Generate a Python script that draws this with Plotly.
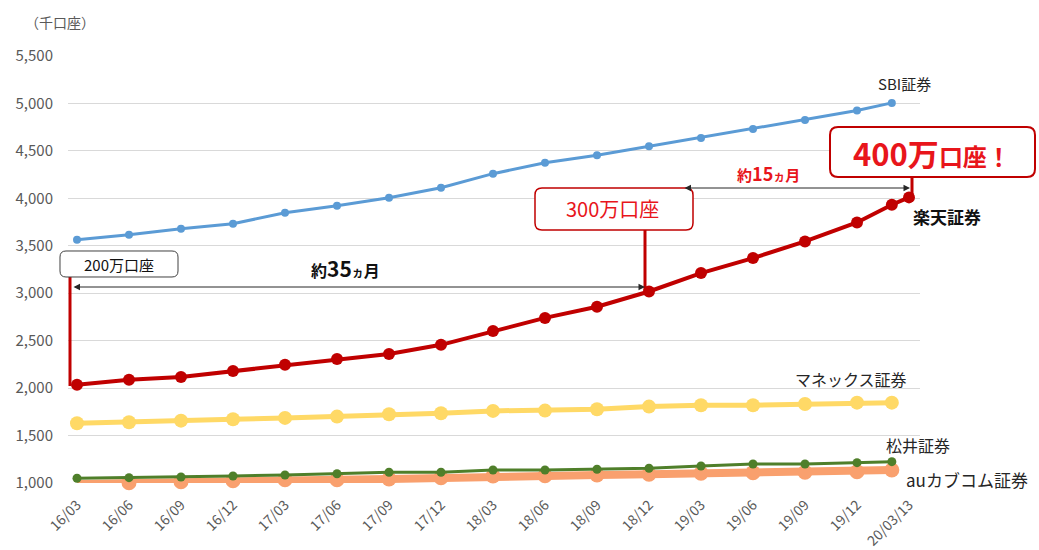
import plotly.graph_objects as go

# ---------------- data ----------------
tick_labels = ["16/03", "16/06", "16/09", "16/12", "17/03", "17/06", "17/09", "17/12",
               "18/03", "18/06", "18/09", "18/12", "19/03", "19/06", "19/09", "19/12", "20/03/13"]
tick_pos = list(range(17))

x_others = [0, 1, 2, 3, 4, 5, 6, 7, 8, 9, 10, 11, 12, 13, 14, 15, 15.67]
x_rakuten = [0, 1, 2, 3, 4, 5, 6, 7, 8, 9, 10, 11, 12, 13, 14, 15, 15.67, 16]

sbi = [3563, 3616, 3680, 3732, 3849, 3922, 4007, 4112, 4260, 4374, 4453, 4548,
       4636, 4731, 4826, 4925, 5006]
rakuten = [2036, 2087, 2118, 2180, 2245, 2308, 2360, 2456, 2603, 2740, 2857, 3018,
           3212, 3370, 3546, 3746, 3933, 4010]
monex = [1630, 1640, 1657, 1672, 1686, 1700, 1725, 1735, 1760, 1763, 1778, 1805,
         1820, 1820, 1833, 1847, 1847]
matsui = [1050, 1056, 1063, 1074, 1084, 1098, 1113, 1113, 1137, 1137, 1145, 1155,
          1179, 1200, 1200, 1214, 1225]
au = [990, 1003, 1014, 1024, 1035, 1035, 1042, 1056, 1074, 1077, 1084, 1092,
      1102, 1109, 1113, 1119, 1137]

# ---------------- layout helpers ----------------
W, H = 1039, 550
L, R, T, B = 68, 920, 56, 483
FONT = "Noto Sans CJK JP, Noto Sans, sans-serif"


def P(px, py):
    return (px - L) / (R - L), (B - py) / (B - T)


def rounded(x0, y0, x1, y1, r):
    def p(x, y):
        a, b = P(x, y)
        return f"{a:.5f},{b:.5f}"
    path = (f"M {p(x0 + r, y0)} L {p(x1 - r, y0)} Q {p(x1, y0)} {p(x1, y0 + r)} "
            f"L {p(x1, y1 - r)} Q {p(x1, y1)} {p(x1 - r, y1)} "
            f"L {p(x0 + r, y1)} Q {p(x0, y1)} {p(x0, y1 - r)} "
            f"L {p(x0, y0 + r)} Q {p(x0, y0)} {p(x0 + r, y0)} Z")
    return path


fig = go.Figure()

fig.add_trace(go.Scatter(x=x_others, y=au, mode="lines+markers", cliponaxis=False,
                         line=dict(color="#F9A06E", width=8),
                         marker=dict(size=15, color="#F9A06E")))
fig.add_trace(go.Scatter(x=x_others, y=matsui, mode="lines+markers", cliponaxis=False,
                         line=dict(color="#4F7F2A", width=3),
                         marker=dict(size=9, color="#4F7F2A")))
fig.add_trace(go.Scatter(x=x_others, y=monex, mode="lines+markers", cliponaxis=False,
                         line=dict(color="#FFD966", width=5),
                         marker=dict(size=14, color="#FFD966")))
fig.add_trace(go.Scatter(x=x_others, y=sbi, mode="lines+markers", cliponaxis=False,
                         line=dict(color="#5B9BD5", width=3),
                         marker=dict(size=8, color="#5B9BD5")))
fig.add_trace(go.Scatter(x=x_rakuten, y=rakuten, mode="lines+markers", cliponaxis=False,
                         line=dict(color="#C00000", width=4),
                         marker=dict(size=12, color="#C00000")))

shapes = []
# red connector lines
for (xa, ya, xb, yb) in [(70, 276, 70, 386), (645, 230, 645, 291), (912, 177, 912, 197)]:
    a0, b0 = P(xa, ya)
    a1, b1 = P(xb, yb)
    shapes.append(dict(type="line", xref="paper", yref="paper", x0=a0, y0=b0, x1=a1, y1=b1,
                       line=dict(color="#C00000", width=3)))
# boxes
shapes.append(dict(type="path", xref="paper", yref="paper", path=rounded(60, 251, 178, 277, 6),
                   fillcolor="white", line=dict(color="#404040", width=1)))
shapes.append(dict(type="path", xref="paper", yref="paper", path=rounded(535, 188, 693, 230, 7),
                   fillcolor="white", line=dict(color="#C00000", width=1.5)))
shapes.append(dict(type="path", xref="paper", yref="paper", path=rounded(830, 127, 1035, 177, 8),
                   fillcolor="white", line=dict(color="#C00000", width=2)))

ann = []


def text(px, py, s, size=14, color="#262626", bold=False, xanchor="center"):
    a, b = P(px, py)
    if bold:
        s = f"<b>{s}</b>"
    ann.append(dict(xref="paper", yref="paper", x=a, y=b, text=s, showarrow=False,
                    xanchor=xanchor, yanchor="middle",
                    font=dict(family=FONT, size=size, color=color)))


def arrow(xa, ya, xb, yb):
    a1, b1 = P(xb, yb)
    ann.append(dict(xref="paper", yref="paper", x=a1, y=b1, axref="pixel", ayref="pixel",
                    ax=xa - xb, ay=ya - yb, text="", showarrow=True, arrowhead=2,
                    arrowside="end+start",
                    arrowsize=1.3, arrowwidth=1, arrowcolor="#262626", standoff=0,
                    startstandoff=0))


text(60, 22, "（千口座）", 14, "#595959")
text(904, 84, "SBI証券", 15)
text(947, 216, "楽天証券", 17, "#111111", bold=True)
text(851, 379, "マネックス証券", 16)
text(918, 445, "松井証券", 16)
text(967, 479, "auカブコム証券", 17)
text(119, 264, "200万口座", 15, "#111111")
text(345, 268, "約<span style='font-size:21px'>35</span><span style='font-size:12px'>ヵ</span>月",
     16, "#111111", bold=True)
text(612, 209, "300万口座", 20, "#E8151B")
text(768, 173, "約<span style='font-size:18px'>15</span><span style='font-size:12px'>ヵ</span>月",
     15, "#E8151B", bold=True)
text(932, 152, "<span style='font-size:31px'>400万</span>口座！", 24, "#E8151B", bold=True)

arrow(72, 287, 645, 287)
arrow(683, 188, 910, 188)

x0 = -(77 - L) / 52
x1 = 16 + (R - 909) / 52

fig.update_layout(
    width=W, height=H,
    margin=dict(l=L, r=W - R, t=T, b=H - B, autoexpand=False),
    plot_bgcolor="white", paper_bgcolor="white",
    showlegend=False,
    font=dict(family=FONT, size=13, color="#595959"),
    shapes=shapes, annotations=ann,
    xaxis=dict(range=[x0, x1], tickmode="array", tickvals=tick_pos, ticktext=tick_labels,
               tickangle=-45, showgrid=False, zeroline=False, showline=False,
               ticklabelstandoff=10,
               automargin=False, tickfont=dict(size=14, color="#595959")),
    yaxis=dict(range=[1000, 5500], tickmode="array",
               tickvals=[1000, 1500, 2000, 2500, 3000, 3500, 4000, 4500, 5000, 5500],
               tickformat=",d", showgrid=True, gridcolor="#D9D9D9", gridwidth=1,
               zeroline=False, showline=False, ticklabelstandoff=14, automargin=False,
               tickfont=dict(size=15, color="#595959")),
)

fig.write_html("out.html", config={"displayModeBar": False},
               post_script="document.body.style.margin='0';document.body.style.overflow='hidden';")
